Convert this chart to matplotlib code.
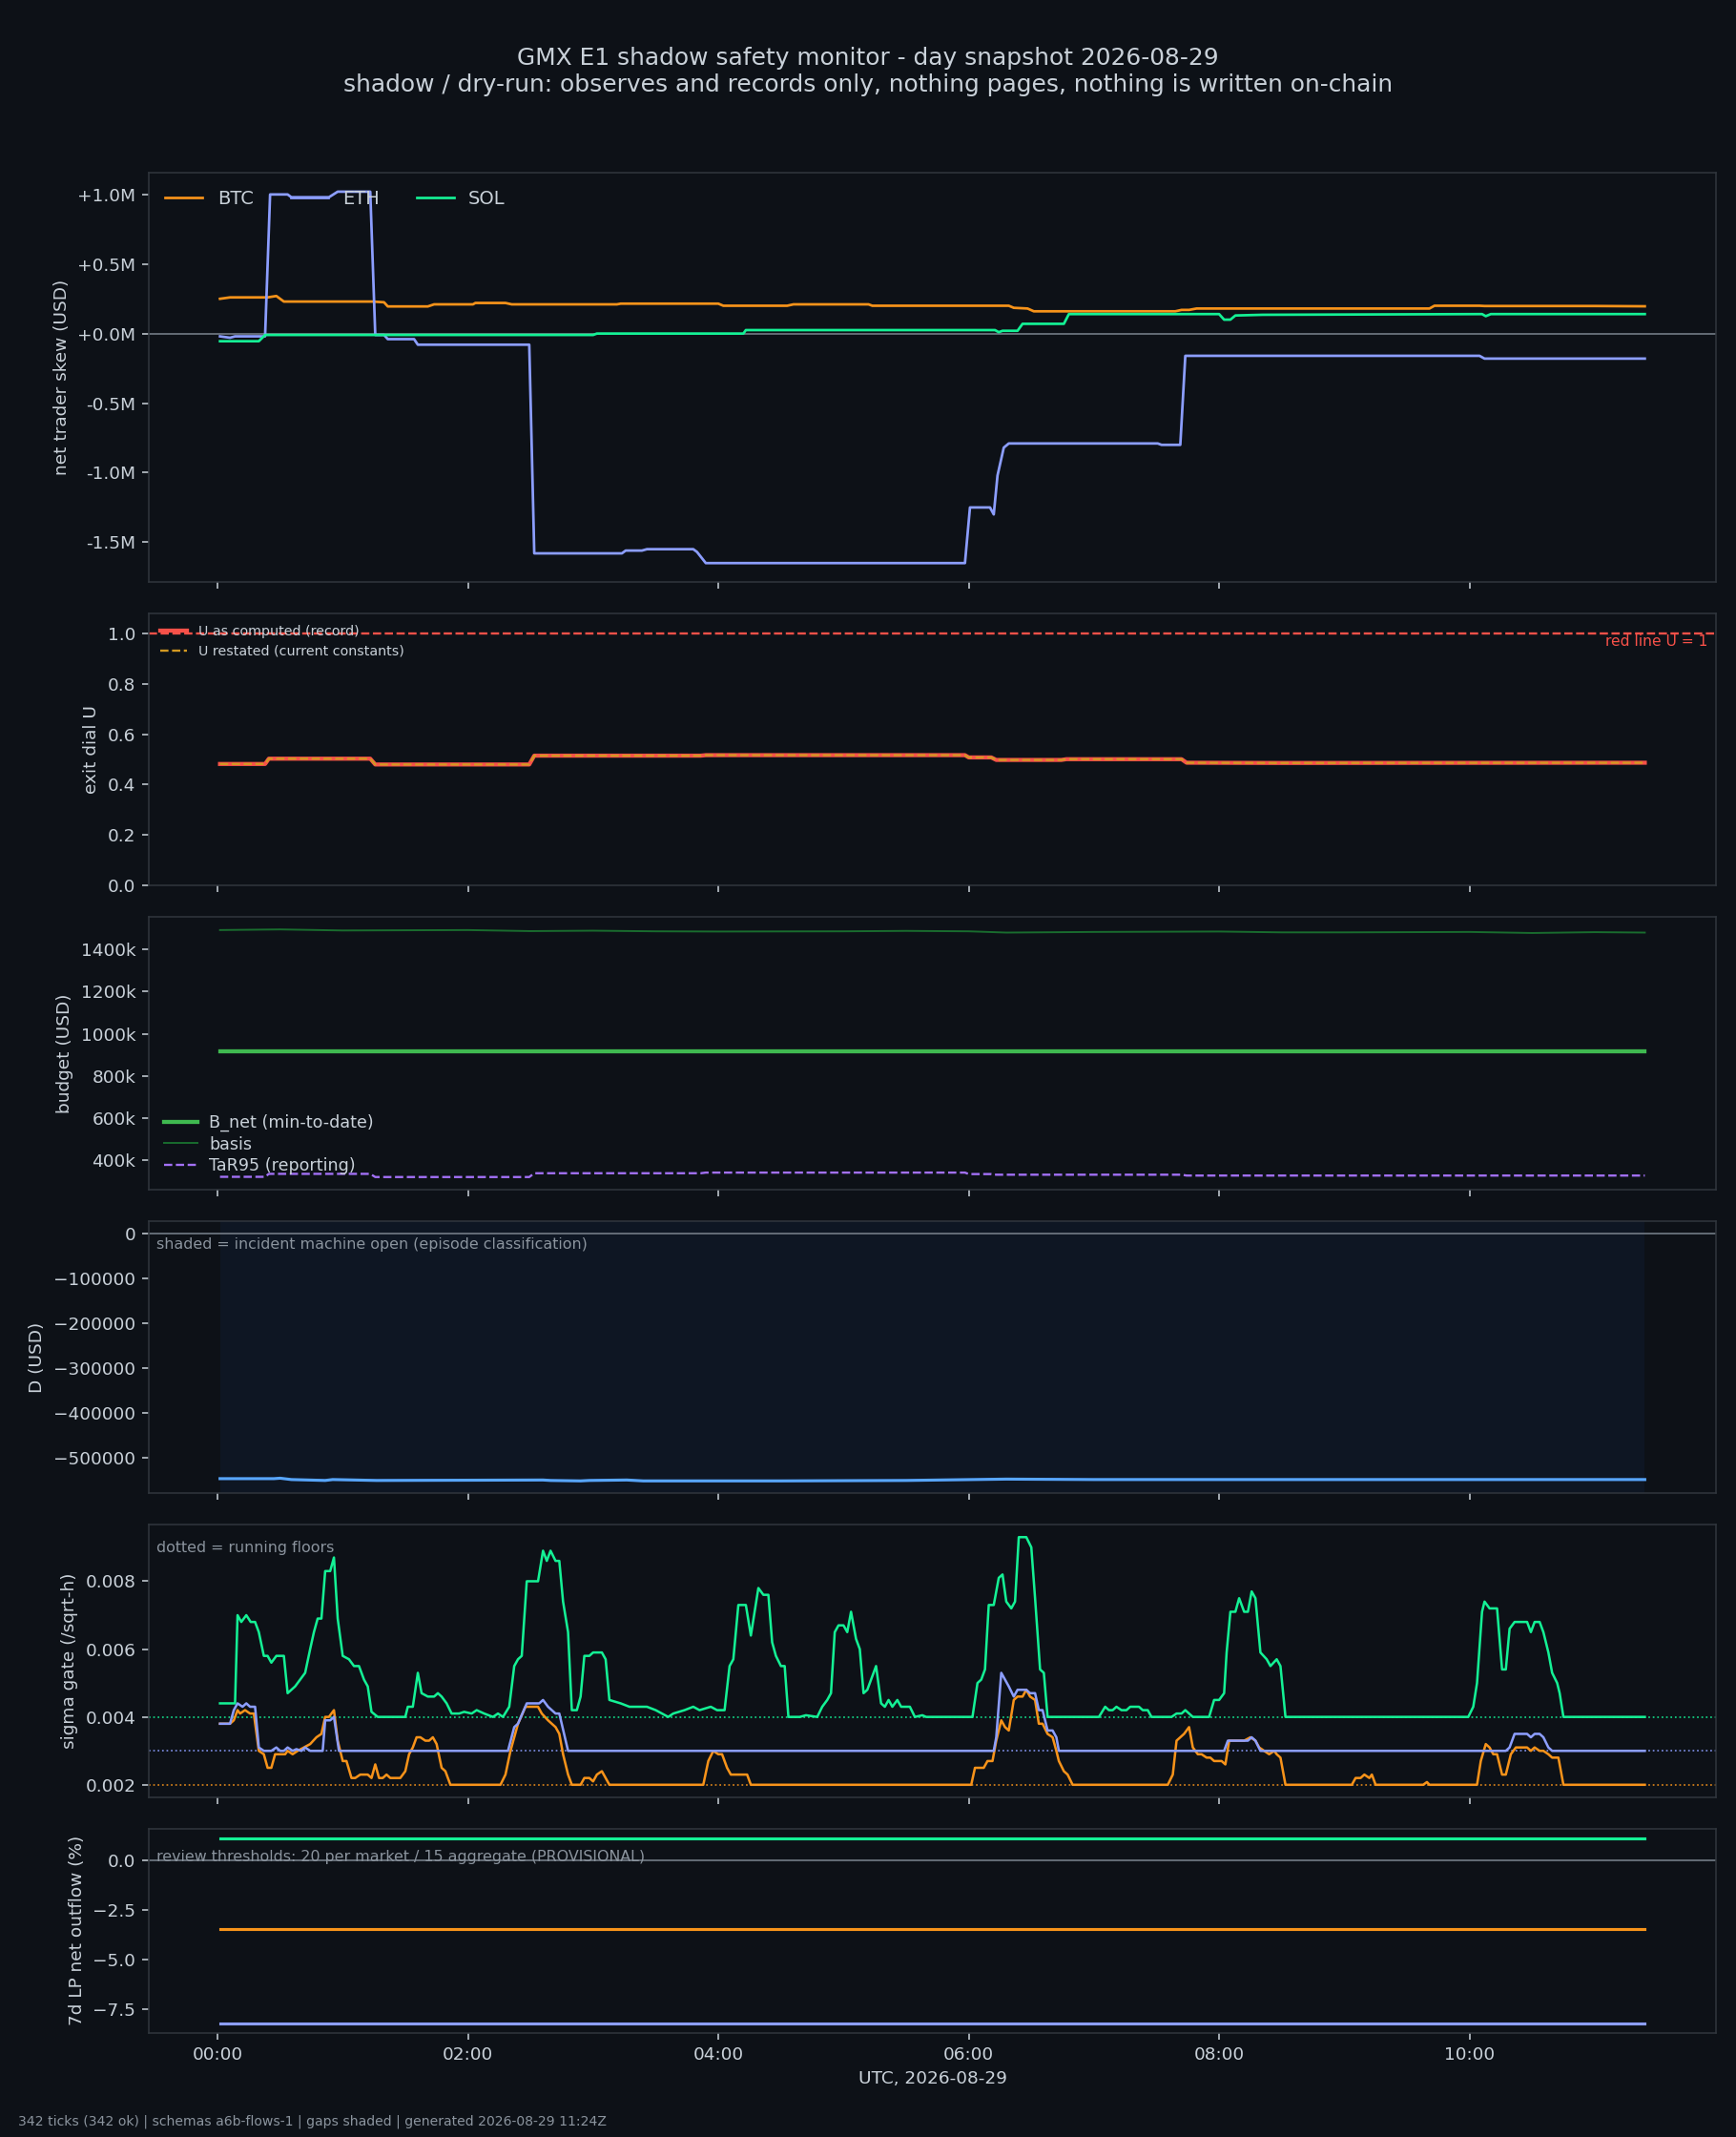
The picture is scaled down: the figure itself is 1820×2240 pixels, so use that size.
import numpy as np
import pandas as pd
import matplotlib
matplotlib.use("Agg")
import matplotlib.pyplot as plt
import matplotlib.dates as mdates
from matplotlib.ticker import FuncFormatter

day0 = pd.Timestamp("2026-08-29")
t_first, t_last = 0.02, 11.40

markets = ["BTC", "ETH", "SOL"]
colors = {"BTC": "#f7931a", "ETH": "#8c9eff", "SOL": "#14f195"}

# net trader skew, USD millions
skew_btc = [(0.02, 0.25), (0.10, 0.26), (0.40, 0.26), (0.47, 0.27), (0.53, 0.23),
            (1.24, 0.23), (1.33, 0.225), (1.36, 0.195), (1.68, 0.195), (1.73, 0.21),
            (2.04, 0.21), (2.06, 0.22), (2.30, 0.22), (2.35, 0.21), (3.19, 0.21),
            (3.22, 0.215), (4.00, 0.215), (4.04, 0.20), (4.55, 0.20), (4.60, 0.21),
            (5.20, 0.21), (5.23, 0.20), (6.32, 0.20), (6.36, 0.185), (6.47, 0.18),
            (6.52, 0.16), (7.65, 0.16), (7.70, 0.17), (7.76, 0.17), (7.82, 0.18),
            (9.68, 0.18), (9.72, 0.20), (10.08, 0.20), (10.12, 0.198), (11.0, 0.198),
            (11.40, 0.196)]
skew_eth = [(0.02, -0.02), (0.10, -0.03), (0.14, -0.02), (0.38, -0.02), (0.42, 1.00),
            (0.56, 1.00), (0.59, 0.98), (0.89, 0.98), (0.96, 1.02), (1.22, 1.02),
            (1.26, -0.01), (1.33, -0.01), (1.36, -0.04), (1.57, -0.04), (1.60, -0.08),
            (2.49, -0.08), (2.53, -1.58), (3.23, -1.58), (3.26, -1.56), (3.39, -1.56),
            (3.43, -1.55), (3.80, -1.55), (3.83, -1.57), (3.90, -1.65), (5.97, -1.65),
            (6.01, -1.25), (6.17, -1.25), (6.20, -1.30), (6.23, -1.02), (6.28, -0.82),
            (6.32, -0.79), (7.51, -0.79), (7.54, -0.80), (7.69, -0.80), (7.73, -0.16),
            (10.08, -0.16), (10.12, -0.18), (11.40, -0.18)]
skew_sol = [(0.02, -0.055), (0.33, -0.055), (0.38, -0.01), (2.52, -0.01), (3.00, -0.01),
            (3.03, 0.0), (4.20, 0.0), (4.22, 0.025), (6.21, 0.025), (6.24, 0.01),
            (6.27, 0.02), (6.39, 0.02), (6.43, 0.07), (6.76, 0.07), (6.80, 0.14),
            (8.00, 0.14), (8.04, 0.10), (8.09, 0.10), (8.13, 0.13), (8.35, 0.135),
            (10.10, 0.14), (10.13, 0.125), (10.17, 0.14), (11.40, 0.14)]

# exit dial U
u_record = [(0.02, 0.482), (0.38, 0.482), (0.41, 0.503), (1.22, 0.503), (1.26, 0.480),
            (2.49, 0.480), (2.53, 0.515), (3.86, 0.515), (3.90, 0.517), (5.97, 0.517),
            (6.00, 0.508), (6.18, 0.508), (6.22, 0.498), (6.74, 0.498), (6.78, 0.501),
            (7.70, 0.501), (7.74, 0.487), (8.5, 0.486), (11.40, 0.487)]
u_red_line = 1.0

# budget, USD
b_net = [(0.02, 918e3), (11.40, 918e3)]
basis = [(0.02, 1492e3), (0.5, 1495e3), (1.0, 1490e3), (2.0, 1492e3), (2.5, 1487e3),
         (3.0, 1489e3), (3.5, 1486e3), (4.0, 1485e3), (5.0, 1486e3), (5.5, 1488e3),
         (6.0, 1486e3), (6.3, 1480e3), (7.0, 1483e3), (8.0, 1485e3), (8.5, 1481e3),
         (9.0, 1481e3), (10.0, 1483e3), (10.5, 1478e3), (11.0, 1482e3), (11.40, 1480e3)]
tar95 = [(0.02, 323e3), (0.38, 323e3), (0.41, 337e3), (1.22, 337e3), (1.26, 322e3),
         (2.49, 322e3), (2.53, 340e3), (3.86, 340e3), (3.90, 343e3), (5.97, 343e3),
         (6.00, 336e3), (6.18, 336e3), (6.22, 333e3), (7.70, 333e3), (7.74, 329e3),
         (11.40, 329e3)]

# D, USD
d_usd = [(0.02, -546e3), (0.45, -546e3), (0.50, -545e3), (0.59, -548e3), (0.86, -550e3),
         (0.92, -548e3), (1.27, -550e3), (2.60, -549e3), (2.66, -550e3), (2.90, -551e3),
         (2.97, -550e3), (3.27, -549e3), (3.40, -551e3), (4.5, -551e3), (5.5, -550e3),
         (6.3, -547e3), (7.0, -548e3), (8.5, -548e3), (10.0, -548e3), (11.40, -548e3)]

# sigma gate per market and running floors
sigma_sol = [(0.02, 0.0044), (0.14, 0.0044), (0.16, 0.0070), (0.19, 0.0068), (0.23, 0.0070),
             (0.265, 0.0068), (0.30, 0.0068), (0.33, 0.0065), (0.37, 0.0058), (0.40, 0.0058),
             (0.43, 0.0056), (0.47, 0.0058), (0.53, 0.0058), (0.56, 0.0047), (0.62, 0.0049),
             (0.66, 0.0051), (0.70, 0.0053), (0.74, 0.0060), (0.77, 0.0065), (0.80, 0.0069),
             (0.83, 0.0069), (0.86, 0.0083), (0.90, 0.0083), (0.93, 0.0087), (0.96, 0.0069),
             (1.00, 0.0058), (1.05, 0.0057), (1.09, 0.0055), (1.13, 0.0055), (1.17, 0.0051),
             (1.20, 0.0049), (1.23, 0.00415), (1.28, 0.0040), (1.50, 0.0040), (1.52, 0.0043),
             (1.56, 0.0043), (1.60, 0.0053), (1.63, 0.0047), (1.68, 0.0046), (1.73, 0.0046),
             (1.76, 0.0047), (1.79, 0.0046), (1.83, 0.0044), (1.87, 0.0041), (1.93, 0.0041),
             (1.97, 0.00415), (2.03, 0.0041), (2.07, 0.0042), (2.13, 0.0041), (2.20, 0.0040),
             (2.24, 0.0041), (2.28, 0.0040), (2.33, 0.0043), (2.37, 0.0055), (2.40, 0.0057),
             (2.43, 0.0058), (2.47, 0.0080), (2.56, 0.0080), (2.60, 0.0089), (2.63, 0.0086),
             (2.66, 0.0089), (2.70, 0.0086), (2.73, 0.0086), (2.76, 0.0074), (2.80, 0.0065),
             (2.83, 0.0042), (2.87, 0.0042), (2.90, 0.0046), (2.93, 0.0058), (2.97, 0.0058),
             (3.00, 0.0059), (3.07, 0.0059), (3.10, 0.0057), (3.13, 0.0045), (3.22, 0.0044),
             (3.29, 0.0043), (3.43, 0.0043), (3.50, 0.0042), (3.60, 0.0040), (3.64, 0.0041),
             (3.73, 0.0042), (3.80, 0.0043), (3.85, 0.0042), (3.94, 0.0043), (3.99, 0.0042),
             (4.05, 0.0042), (4.09, 0.0055), (4.12, 0.0057), (4.16, 0.0073), (4.22, 0.0073),
             (4.26, 0.0064), (4.32, 0.0078), (4.36, 0.0076), (4.40, 0.0076), (4.43, 0.0062),
             (4.46, 0.0058), (4.50, 0.0055), (4.53, 0.0055), (4.56, 0.0040), (4.65, 0.0040),
             (4.70, 0.00405), (4.79, 0.0040), (4.83, 0.0043), (4.87, 0.0045), (4.90, 0.0047),
             (4.93, 0.0065), (4.96, 0.0067), (5.00, 0.0067), (5.03, 0.0065), (5.06, 0.0071),
             (5.10, 0.0063), (5.13, 0.0060), (5.16, 0.0047), (5.19, 0.0048), (5.23, 0.0052),
             (5.26, 0.0055), (5.30, 0.0044), (5.33, 0.0043), (5.36, 0.0045), (5.39, 0.0043),
             (5.43, 0.0045), (5.46, 0.0043), (5.53, 0.0043), (5.57, 0.0040), (5.63, 0.00405),
             (5.66, 0.0040), (6.03, 0.0040), (6.07, 0.0050), (6.10, 0.0051), (6.13, 0.0054),
             (6.16, 0.0073), (6.20, 0.0073), (6.24, 0.0081), (6.27, 0.0082), (6.30, 0.0074),
             (6.34, 0.0072), (6.37, 0.0074), (6.40, 0.0093), (6.46, 0.0093), (6.50, 0.0090),
             (6.53, 0.0075), (6.57, 0.0054), (6.60, 0.0053), (6.63, 0.0040), (7.04, 0.0040),
             (7.09, 0.0043), (7.12, 0.0042), (7.15, 0.0042), (7.18, 0.0043), (7.22, 0.0042),
             (7.26, 0.0042), (7.29, 0.0043), (7.36, 0.0043), (7.39, 0.0042), (7.43, 0.0042),
             (7.46, 0.0040), (7.62, 0.0040), (7.66, 0.0041), (7.70, 0.0041), (7.73, 0.0042),
             (7.76, 0.0041), (7.79, 0.0040), (7.92, 0.0040), (7.96, 0.0045), (8.00, 0.0045),
             (8.04, 0.0047), (8.06, 0.0059), (8.09, 0.0071), (8.13, 0.0071), (8.16, 0.0075),
             (8.20, 0.0071), (8.23, 0.0071), (8.26, 0.0077), (8.29, 0.0075), (8.33, 0.0059),
             (8.38, 0.0057), (8.41, 0.0055), (8.46, 0.0057), (8.49, 0.0055), (8.53, 0.0040),
             (9.99, 0.0040), (10.03, 0.0043), (10.06, 0.0050), (10.10, 0.0071), (10.12, 0.0074),
             (10.16, 0.0072), (10.22, 0.0072), (10.26, 0.0054), (10.29, 0.0054), (10.32, 0.0066),
             (10.36, 0.0068), (10.46, 0.0068), (10.49, 0.0065), (10.52, 0.0068), (10.56, 0.0068),
             (10.59, 0.0065), (10.63, 0.0059), (10.66, 0.0053), (10.70, 0.0050), (10.72, 0.0047),
             (10.75, 0.0040), (11.40, 0.0040)]
sigma_eth = [(0.02, 0.0038), (0.10, 0.0038), (0.13, 0.0042), (0.16, 0.0044), (0.20, 0.0043),
             (0.23, 0.0044), (0.26, 0.0043), (0.30, 0.0043), (0.33, 0.0031), (0.37, 0.0030),
             (0.43, 0.0030), (0.47, 0.0031), (0.50, 0.0030), (0.53, 0.0030), (0.56, 0.0031),
             (0.60, 0.0030), (0.63, 0.00305), (0.67, 0.0030), (0.70, 0.0031), (0.74, 0.0030),
             (0.84, 0.0030), (0.86, 0.0039), (0.90, 0.0039), (0.93, 0.0040), (0.97, 0.0030),
             (2.32, 0.0030), (2.37, 0.0037), (2.40, 0.0038), (2.47, 0.0044), (2.57, 0.0044),
             (2.60, 0.0045), (2.64, 0.0043), (2.70, 0.0041), (2.73, 0.0041), (2.80, 0.0030),
             (6.20, 0.0030), (6.22, 0.0034), (6.26, 0.0053), (6.32, 0.0049), (6.36, 0.0046),
             (6.39, 0.0048), (6.46, 0.0048), (6.49, 0.0047), (6.53, 0.0047), (6.56, 0.0042),
             (6.59, 0.0042), (6.63, 0.0036), (6.67, 0.0036), (6.70, 0.0034), (6.72, 0.0030),
             (8.04, 0.0030), (8.07, 0.0033), (8.23, 0.0033), (8.26, 0.0034), (8.29, 0.0033),
             (8.33, 0.0030), (10.29, 0.0030), (10.32, 0.0031), (10.36, 0.0035), (10.46, 0.0035),
             (10.49, 0.0034), (10.52, 0.0035), (10.56, 0.0035), (10.59, 0.0034), (10.63, 0.0031),
             (10.66, 0.0030), (11.40, 0.0030)]
sigma_btc = [(0.02, 0.0038), (0.10, 0.0038), (0.13, 0.0039), (0.16, 0.0042), (0.18, 0.0041),
             (0.22, 0.0042), (0.26, 0.0041), (0.29, 0.0041), (0.33, 0.0030), (0.37, 0.0029),
             (0.40, 0.0025), (0.43, 0.0025), (0.46, 0.0029), (0.54, 0.0029), (0.56, 0.0030),
             (0.60, 0.0029), (0.64, 0.0030), (0.69, 0.0031), (0.74, 0.0032), (0.79, 0.0034),
             (0.83, 0.0035), (0.86, 0.0040), (0.89, 0.0040), (0.93, 0.0042), (0.96, 0.0033),
             (1.00, 0.0027), (1.03, 0.0027), (1.07, 0.0022), (1.10, 0.0022), (1.14, 0.0023),
             (1.20, 0.0023), (1.23, 0.0022), (1.26, 0.0026), (1.29, 0.0022), (1.32, 0.0022),
             (1.35, 0.0023), (1.38, 0.0022), (1.46, 0.0022), (1.50, 0.0024), (1.53, 0.0029),
             (1.56, 0.0031), (1.59, 0.0034), (1.62, 0.0034), (1.66, 0.0033), (1.69, 0.0033),
             (1.72, 0.0034), (1.75, 0.0032), (1.79, 0.0025), (1.82, 0.0024), (1.86, 0.0020),
             (2.26, 0.0020), (2.30, 0.0023), (2.34, 0.0030), (2.40, 0.0038), (2.46, 0.0043),
             (2.56, 0.0043), (2.59, 0.0041), (2.64, 0.0039), (2.70, 0.0037), (2.73, 0.0035),
             (2.76, 0.0029), (2.80, 0.0023), (2.83, 0.0020), (2.90, 0.0020), (2.93, 0.0022),
             (2.97, 0.0022), (3.00, 0.0021), (3.03, 0.0023), (3.07, 0.0024), (3.10, 0.0022),
             (3.13, 0.0020), (3.88, 0.0020), (3.92, 0.0027), (3.96, 0.0030), (4.00, 0.0029),
             (4.03, 0.0029), (4.07, 0.0025), (4.10, 0.0023), (4.23, 0.0023), (4.26, 0.0020),
             (6.02, 0.0020), (6.05, 0.0025), (6.12, 0.0025), (6.15, 0.0027), (6.19, 0.0027),
             (6.22, 0.0033), (6.26, 0.0039), (6.29, 0.0037), (6.32, 0.0036), (6.36, 0.0045),
             (6.39, 0.0046), (6.43, 0.0046), (6.46, 0.0048), (6.49, 0.0046), (6.53, 0.0045),
             (6.56, 0.0038), (6.59, 0.0038), (6.63, 0.0035), (6.67, 0.0034), (6.70, 0.0030),
             (6.72, 0.0027), (6.76, 0.0024), (6.79, 0.0023), (6.83, 0.0020), (7.59, 0.0020),
             (7.63, 0.0023), (7.66, 0.0033), (7.72, 0.0035), (7.76, 0.0037), (7.79, 0.0031),
             (7.83, 0.0029), (7.86, 0.0029), (7.90, 0.0028), (7.93, 0.0028), (7.96, 0.0027),
             (8.02, 0.0027), (8.05, 0.0026), (8.08, 0.0033), (8.20, 0.0033), (8.25, 0.0034),
             (8.29, 0.0033), (8.32, 0.0031), (8.36, 0.0030), (8.40, 0.0029), (8.44, 0.0030),
             (8.46, 0.0029), (8.49, 0.0028), (8.53, 0.0020), (9.06, 0.0020), (9.09, 0.0022),
             (9.13, 0.0022), (9.16, 0.0023), (9.20, 0.0022), (9.22, 0.0023), (9.25, 0.0020),
             (9.63, 0.0020), (9.66, 0.00208), (9.68, 0.0020), (10.06, 0.0020), (10.09, 0.0027),
             (10.13, 0.0032), (10.16, 0.0031), (10.19, 0.0029), (10.22, 0.0029), (10.26, 0.0023),
             (10.29, 0.0023), (10.33, 0.0029), (10.37, 0.0031), (10.46, 0.0031), (10.49, 0.0030),
             (10.52, 0.0031), (10.56, 0.0030), (10.59, 0.0030), (10.63, 0.0029), (10.66, 0.0028),
             (10.71, 0.0028), (10.75, 0.0020), (11.40, 0.0020)]
sigma_floor = {"BTC": 0.002, "ETH": 0.003, "SOL": 0.004}

# 7d LP net outflow, percent
lp_outflow = {"BTC": -3.5, "ETH": -8.25, "SOL": 1.12}

footer = "342 ticks (342 ok) | schemas a6b-flows-1 | gaps shaded | generated 2026-08-29 11:24Z"


def series(pairs):
    h, v = zip(*pairs)
    return day0 + pd.to_timedelta(np.array(h), unit="h"), np.array(v)


# --- style ---
BG = "#0d1117"
FG = "#c9d1d9"
MUTED = "#8b949e"
EDGE = "#30363d"
plt.rcParams.update({
    "font.size": 9.5,
    "figure.facecolor": BG,
    "axes.facecolor": BG,
    "axes.edgecolor": EDGE,
    "axes.labelcolor": FG,
    "xtick.color": FG,
    "ytick.color": FG,
    "text.color": FG,
    "legend.labelcolor": FG,
})

fig, axes = plt.subplots(6, 1, figsize=(13, 16), dpi=140, sharex=True,
                         gridspec_kw={"height_ratios": [6, 4, 4, 4, 4, 3]})
fig.subplots_adjust(left=0.0857, right=0.9885, top=0.919, bottom=0.0487, hspace=0.111)
ax1, ax2, ax3, ax4, ax5, ax6 = axes
skews = {"BTC": skew_btc, "ETH": skew_eth, "SOL": skew_sol}
sigmas = {"BTC": sigma_btc, "ETH": sigma_eth, "SOL": sigma_sol}

# 1: skew
ax1.axhline(0, color="#6e7681", lw=0.9)
for m in markets:
    t, v = series(skews[m])
    ax1.plot(t, v * 1e6, color=colors[m], lw=1.4, label=m)
ax1.yaxis.set_major_formatter(FuncFormatter(lambda v, p: f"{v / 1e6:+.1f}M"))
ax1.set_ylabel("net trader skew (USD)")
ax1.legend(loc="upper left", ncol=3, frameon=False, fontsize=10)

# 2: exit dial
t, v = series(u_record)
ax2.plot(t, v, color="#f85149", lw=2.2, label="U as computed (record)")
ax2.plot(t, v, color="#d29922", lw=1.2, ls="--", label="U restated (current constants)")
ax2.axhline(u_red_line, color="#f85149", lw=1.2, ls="--")
ax2.text(0.995, u_red_line - 0.004, "red line U = 1", color="#f85149", fontsize=8,
         ha="right", va="top", transform=ax2.get_yaxis_transform())
ax2.set_ylim(0, 1.08)
ax2.set_ylabel("exit dial U")
ax2.legend(loc="upper left", frameon=False, fontsize=7.3, borderaxespad=0.45)

# 3: budget
t, v = series(b_net)
ax3.plot(t, v, color="#3fb950", lw=2.2, label="B_net (min-to-date)")
t, v = series(basis)
ax3.plot(t, v, color="#196c2e", lw=1.0, label="basis")
t, v = series(tar95)
ax3.plot(t, v, color="#a371f7", lw=1.2, ls="--", label="TaR95 (reporting)")
ax3.yaxis.set_major_formatter(FuncFormatter(lambda v, p: f"{v / 1e3:.0f}k"))
ax3.set_ylabel("budget (USD)")
ax3.legend(loc="lower left", frameon=False, fontsize=9, labelspacing=0.25,
           handletextpad=0.7)

# 4: D
t, v = series(d_usd)
ax4.axvspan(t[0], t[-1], color="#1f6feb", alpha=0.06, lw=0)
ax4.axhline(0, color="#6e7681", lw=0.9)
ax4.plot(t, v, color="#58a6ff", lw=1.6)
ax4.set_ylabel("D (USD)")
ax4.text(0.005, 0.94, "shaded = incident machine open (episode classification)",
         transform=ax4.transAxes, color=MUTED, fontsize=8.2, va="top")

# 5: sigma gate
for m in markets:
    ax5.axhline(sigma_floor[m], color=colors[m], lw=0.9, ls=":", alpha=0.85)
for m in markets:
    t, v = series(sigmas[m])
    ax5.plot(t, v, color=colors[m], lw=1.3)
ax5.set_ylabel("sigma gate (/sqrt-h)")
ax5.text(0.005, 0.94, "dotted = running floors", transform=ax5.transAxes,
         color=MUTED, fontsize=8.2, va="top")

# 6: LP outflow
ax6.axhline(0, color="#6e7681", lw=0.9)
t_span = day0 + pd.to_timedelta([t_first, t_last], unit="h")
for m in markets:
    ax6.plot(t_span, [lp_outflow[m]] * 2, color=colors[m], lw=1.6)
ax6.set_ylabel("7d LP net outflow (%)")
ax6.text(0.005, 0.897, "review thresholds: 20 per market / 15 aggregate (PROVISIONAL)",
         transform=ax6.transAxes, color=MUTED, fontsize=8.2, va="top")
ax6.xaxis.set_major_locator(mdates.HourLocator(byhour=range(0, 24, 2)))
ax6.xaxis.set_major_formatter(mdates.DateFormatter("%H:%M"))
ax6.set_xlabel("UTC, 2026-08-29")

for ax in axes:
    for s in ax.spines.values():
        s.set_color(EDGE)
    ax.tick_params(colors=FG)

fig.suptitle("GMX E1 shadow safety monitor - day snapshot 2026-08-29\n"
             "shadow / dry-run: observes and records only, nothing pages, nothing is written on-chain",
             fontsize=12.8, color=FG, y=0.978)
fig.text(0.0102, 0.004, footer, fontsize=7.2, color=MUTED, ha="left", va="bottom")

fig.savefig("out.png", dpi=140, facecolor=BG)
